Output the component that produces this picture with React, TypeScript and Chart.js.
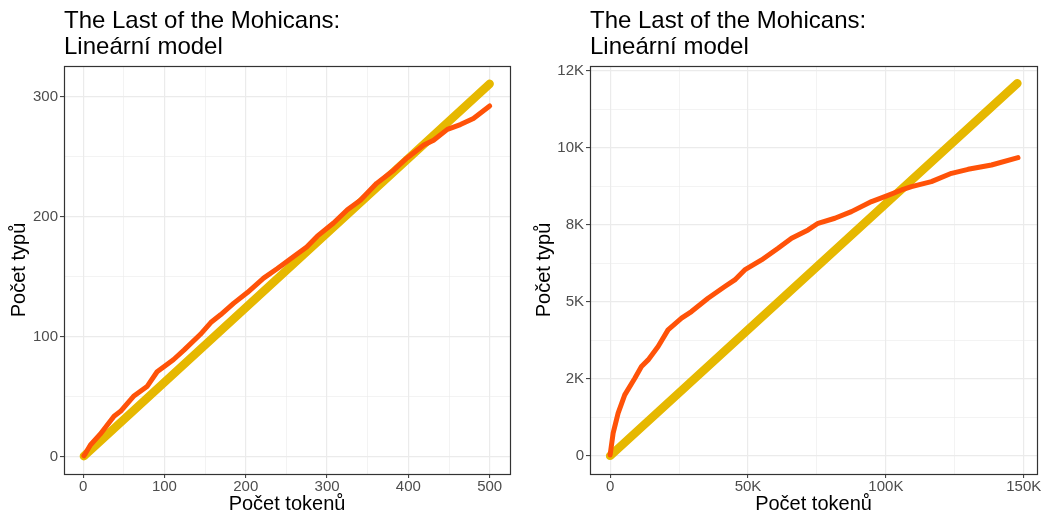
import React, { useEffect, useRef } from 'react';
import { Chart, registerables } from 'chart.js';

Chart.register(...registerables);

const FONT = '"Liberation Sans", Arial, Helvetica, sans-serif';
const TITLE_LINES = ['The Last of the Mohicans:', 'Lineární model'];
const X_TITLE = 'Počet tokenů';
const Y_TITLE = 'Počet typů';

const RED = '#FF5208';
const YELLOW = '#E6B800';

// Left panel: first 500 tokens
const leftTokens = [1, 3, 9, 21, 38, 46, 62, 79, 91, 111, 124, 144, 157, 169, 185, 202, 222, 239, 259, 275, 288, 308, 325, 341, 361, 382, 398, 419, 431, 448, 464, 480, 500];
const leftTypes = [1, 3, 10, 19, 34, 38, 50.5, 59, 71, 81, 89, 102, 112, 118.5, 128, 137, 149, 157, 167, 175, 184, 195, 206, 214, 228, 239, 249, 260, 264, 273, 277, 282, 292.5];
const leftModelTokens = [1, 500];
const leftModelTypes = [0.62, 311];
const leftXMajor = [0, 100, 200, 300, 400, 500];
const leftXLabels = ['0', '100', '200', '300', '400', '500'];
const leftXMinor = [50, 150, 250, 350, 450];
const leftYMajor = [0, 100, 200, 300];
const leftYLabels = ['0', '100', '200', '300'];
const leftYMinor = [50, 150, 250];

// Right panel: whole text
const rightTokens = [0, 1088, 2900, 5300, 8950, 11360, 13780, 17400, 21000, 25900, 29500, 35500, 41600, 45200, 48800, 54900, 60900, 65800, 71800, 75400, 81500, 87500, 94800, 99600, 105700, 109300, 116500, 123800, 129800, 138300, 147900];
const rightTypes = [30, 736, 1385, 1980, 2520, 2900, 3116, 3550, 4090, 4470, 4685, 5118, 5497, 5713, 6038, 6362, 6741, 7066, 7336, 7552, 7715, 7931, 8256, 8418, 8634, 8743, 8905, 9175, 9305, 9446, 9684];
const rightModelTokens = [0, 147700];
const rightModelTypes = [0, 12100];
const rightXMajor = [0, 50000, 100000, 150000];
const rightXLabels = ['0', '50K', '100K', '150K'];
const rightXMinor = [25000, 75000, 125000];
const rightYMajor = [0, 2500, 5000, 7500, 10000, 12500];
const rightYLabels = ['0', '2K', '5K', '8K', '10K', '12K'];
const rightYMinor = [1250, 3750, 6250, 8750, 11250];

type Panel = {
  tokens: number[]; types: number[];
  modelTokens: number[]; modelTypes: number[];
  xMajor: number[]; xLabels: string[]; xMinor: number[];
  yMajor: number[]; yLabels: string[]; yMinor: number[];
  xMin: number; xMax: number; yMin: number; yMax: number;
  yWidth: number; padRight: number;
};

const panels: Panel[] = [
  {
    tokens: leftTokens, types: leftTypes, modelTokens: leftModelTokens, modelTypes: leftModelTypes,
    xMajor: leftXMajor, xLabels: leftXLabels, xMinor: leftXMinor,
    yMajor: leftYMajor, yLabels: leftYLabels, yMinor: leftYMinor,
    xMin: -23.5, xMax: 525, yMin: -14.2, yMax: 325.8, yWidth: 64, padRight: 15,
  },
  {
    tokens: rightTokens, types: rightTypes, modelTokens: rightModelTokens, modelTypes: rightModelTypes,
    xMajor: rightXMajor, xLabels: rightXLabels, xMinor: rightXMinor,
    yMajor: rightYMajor, yLabels: rightYLabels, yMinor: rightYMinor,
    xMin: -7300, xMax: 154800, yMin: -590, yMax: 12660, yWidth: 65, padRight: 14,
  },
];

function zip(xs: number[], ys: number[]) {
  return xs.map((x, i) => ({ x, y: ys[i] }));
}

function axisOpts(major: number[], labels: string[], minor: number[], min: number, max: number, isX: boolean, yWidth: number) {
  const all = [...major, ...minor].sort((a, b) => a - b);
  const isMajor = (v: any) => major.indexOf(v) >= 0;
  return {
    type: 'linear',
    min, max,
    afterBuildTicks: (s: any) => { s.ticks = all.map((v) => ({ value: v })); },
    afterFit: (s: any) => { if (isX) s.height = 43; else s.width = yWidth; },
    ticks: {
      autoSkip: false,
      maxRotation: 0,
      minRotation: 0,
      padding: isX ? 0 : 2,
      color: '#4D4D4D',
      font: { family: FONT, size: 15 },
      callback: (v: any) => { const i = major.indexOf(v); return i >= 0 ? labels[i] : ''; },
    },
    grid: {
      color: '#EBEBEB',
      lineWidth: (ctx: any) => (ctx.tick && isMajor(ctx.tick.value) ? 1.2 : 0.6),
      tickColor: (ctx: any) => (ctx.tick && isMajor(ctx.tick.value) ? '#333333' : 'rgba(0,0,0,0)'),
      tickLength: 4,
      tickWidth: 1,
      drawTicks: true,
    },
    border: { display: false },
    title: {
      display: true,
      text: isX ? X_TITLE : Y_TITLE,
      color: '#000000',
      font: { family: FONT, size: 20 },
      padding: isX ? { top: 0, bottom: 1 } : { top: 7, bottom: 0 },
    },
  };
}

const framePlugin = {
  id: 'frameAndTitle',
  afterDraw(chart: any) {
    const { ctx, chartArea } = chart;
    ctx.save();
    ctx.strokeStyle = '#333333';
    ctx.lineWidth = 1.2;
    ctx.strokeRect(Math.round(chartArea.left) + 0.5, Math.round(chartArea.top) + 0.5,
      Math.round(chartArea.right - chartArea.left), Math.round(chartArea.bottom - chartArea.top));
    ctx.fillStyle = '#000000';
    ctx.font = `24px ${FONT}`;
    ctx.textAlign = 'left';
    ctx.textBaseline = 'alphabetic';
    ctx.fillText(TITLE_LINES[0], chartArea.left, 28);
    ctx.fillText(TITLE_LINES[1], chartArea.left, 54);
    ctx.restore();
  },
};

function PanelChart({ p, left, width }: { p: Panel; left: number; width: number }) {
  const ref = useRef<HTMLCanvasElement>(null);
  useEffect(() => {
    const chart = new Chart(ref.current as HTMLCanvasElement, {
      type: 'scatter',
      data: {
        datasets: [
          {
            data: zip(p.tokens, p.types),
            showLine: true,
            borderColor: RED,
            backgroundColor: RED,
            borderWidth: 5,
            pointRadius: 0,
            borderCapStyle: 'round',
            borderJoinStyle: 'round',
            order: 0,
          } as any,
          {
            data: zip(p.modelTokens, p.modelTypes),
            showLine: true,
            borderColor: YELLOW,
            backgroundColor: YELLOW,
            borderWidth: 8.5,
            pointRadius: 0,
            borderCapStyle: 'round',
            borderJoinStyle: 'round',
            order: 1,
          } as any,
        ],
      },
      options: {
        responsive: false,
        animation: false,
        devicePixelRatio: 1,
        layout: { padding: { top: 66, right: p.padRight, left: 0, bottom: 0 } },
        plugins: { legend: { display: false }, tooltip: { enabled: false } },
        scales: {
          x: axisOpts(p.xMajor, p.xLabels, p.xMinor, p.xMin, p.xMax, true, p.yWidth) as any,
          y: axisOpts(p.yMajor, p.yLabels, p.yMinor, p.yMin, p.yMax, false, p.yWidth) as any,
        },
      },
      plugins: [framePlugin],
    });
    return () => chart.destroy();
  }, [p]);
  return (
    <canvas
      ref={ref}
      width={width}
      height={517}
      style={{ position: 'absolute', left, top: 0, width, height: 517, display: 'block' }}
    />
  );
}

export default function App() {
  return (
    <div style={{ position: 'absolute', left: 0, top: 0, width: 1051, height: 517, background: '#ffffff', overflow: 'hidden' }}>
      <PanelChart p={panels[0]} left={0} width={525} />
      <PanelChart p={panels[1]} left={525} width={526} />
    </div>
  );
}
